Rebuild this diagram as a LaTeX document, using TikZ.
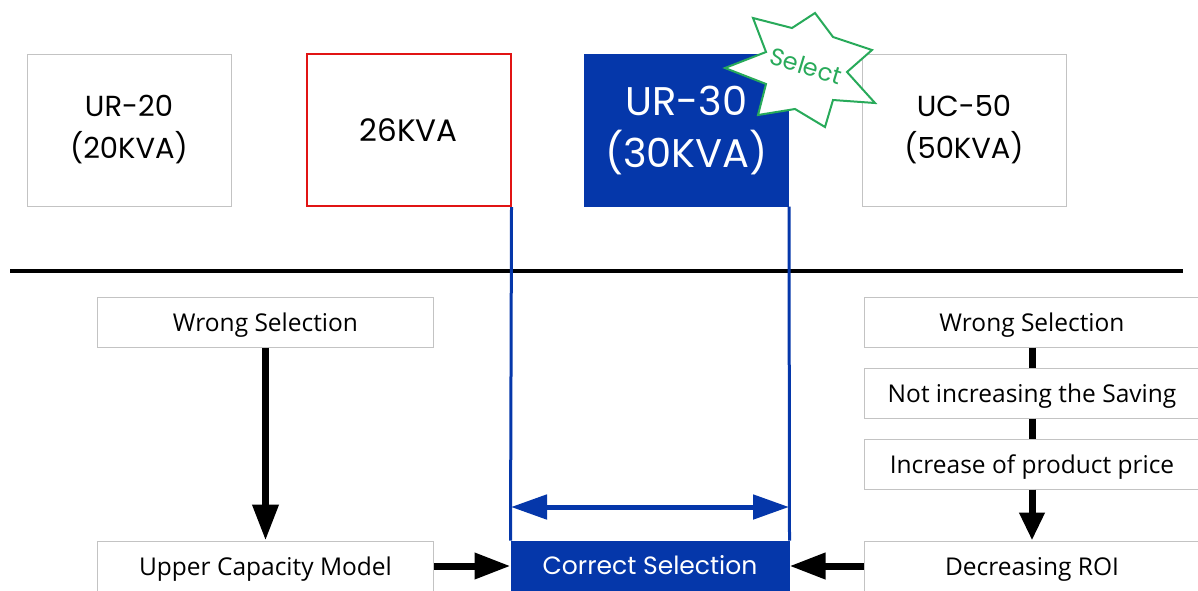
\documentclass[tikz,border=0pt]{standalone}
\usepackage{fontspec}
\setmainfont{Open Sans}
\newfontfamily\geo{Poppins}
\usetikzlibrary{arrows.meta}
\definecolor{selblue}{RGB}{5,55,170}
\definecolor{selred}{RGB}{225,20,20}
\definecolor{selgreen}{RGB}{40,170,90}
\definecolor{boxgray}{RGB}{195,195,195}
\begin{document}
\begin{tikzpicture}[x=1pt,y=-1pt,
  topbox/.style={draw=boxgray,line width=1pt,minimum width=204pt,minimum height=152pt,
    inner sep=0pt,align=center,font=\geo\fontsize{29}{42}\selectfont},
  lowbox/.style={draw=boxgray,line width=1pt,minimum width=336pt,minimum height=50pt,
    inner sep=0pt,text height=18pt,text depth=0pt,font=\fontsize{24.5}{26}\selectfont},
  fatarrow/.style={line width=7pt,-{Triangle[length=36pt,width=25pt]}},
  fatbar/.style={line width=7pt},
  bluebar/.style={draw=selblue,line width=3pt},
  bluearrow/.style={draw=selblue,line width=5pt,
    {Triangle[length=36pt,width=24pt]}-{Triangle[length=36pt,width=24pt]}},
]
\useasboundingbox (0,0) rectangle (1198,590);

% top row
\node[topbox] (ur20) at (129,130) {UR-20\\(20KVA)};
\node[topbox,draw=selred,line width=2pt,font=\geo\fontsize{31}{42}\selectfont] (kva) at (408.5,130) {26KVA};
\node[topbox,fill=selblue,draw=selblue,text=white,
      font=\geo\fontsize{40}{52}\selectfont] (ur30) at (686.5,130) {UR-30\\(30KVA)};
\node[topbox] (uc50) at (964,130) {UC-50\\(50KVA)};

% star
\draw[selgreen,line width=2pt,fill=white]
  (753,18) -- (792,28) -- (815,13) -- (833,37) -- (872,50) -- (847,72)
  -- (875,103) -- (833,100) -- (825,127) -- (795,109) -- (758,115)
  -- (766,84) -- (725,68) -- (766,52) -- cycle;
\node[text=selgreen,font=\geo\fontsize{24}{26}\selectfont,rotate=-17,inner sep=0pt] (sel) at (806,66) {Select};

% divider
\coordinate (hl) at (10,271);
\coordinate (hr) at (1183,271);
\draw[line width=3.5pt] (hl) -- (hr);

% lower boxes
\node[lowbox] (wsl) at (265.5,322) {Wrong Selection};
\node[lowbox] (ucm) at (265.5,566) {Upper Capacity Model};
\node[lowbox] (wsr) at (1032,322) {Wrong Selection};
\node[lowbox] (nis) at (1032,393) {Not increasing the Saving};
\node[lowbox] (ipp) at (1032,464) {Increase of product price};
\node[lowbox] (roi) at (1032,566) {Decreasing ROI};
\node[lowbox,minimum width=278pt,fill=selblue,draw=selblue,text=white,text height=16pt,
      font=\geo\fontsize{25}{26}\selectfont] (cor) at (650,566) {Correct Selection};

% blue range lines
\draw[bluebar] (kva.south east) -- (cor.north west);
\draw[bluebar] (ur30.south east) -- (cor.north east);
\coordinate (dl) at (511,507);
\coordinate (dr) at (789,507);
\draw[bluearrow] (dl) -- (dr);

% black connectors
\draw[fatarrow] (wsl) -- (ucm);
\draw[fatarrow] (ucm) -- (cor);
\draw[fatarrow] (roi) -- (cor);
\draw[fatbar] (wsr) -- (nis);
\draw[fatbar] (nis) -- (ipp);
\draw[line width=7pt,-{Triangle[length=28pt,width=24pt]}] (ipp) -- (roi);
\end{tikzpicture}
\end{document}
